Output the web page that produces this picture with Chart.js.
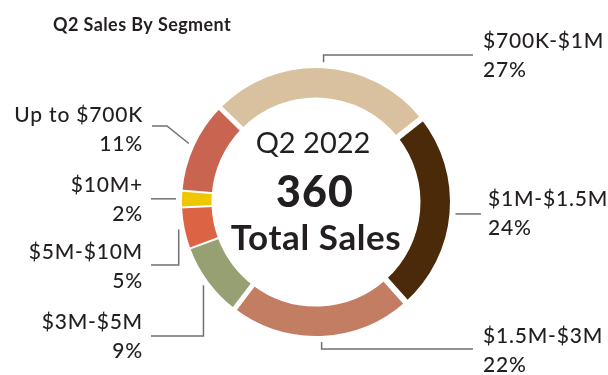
<!DOCTYPE html>
<html>
<head>
<meta charset="utf-8">
<script src="https://cdn.jsdelivr.net/npm/chart.js@4.4.1/dist/chart.umd.min.js"></script>
<style>
  html, body { margin: 0; padding: 0; background: #ffffff; }
  #wrap { position: relative; width: 608px; height: 375px; }
</style>
</head>
<body>
<div id="wrap"><canvas id="c"></canvas></div>
<script>
// ---- data ----
const chartTitle = 'Q2 Sales By Segment';
const quarterLabel = 'Q2 2022';
const totalSales = 360;
const totalLabel = 'Total Sales';
const segments = ['$700K-$1M', '$1M-$1.5M', '$1.5M-$3M', '$3M-$5M', '$5M-$10M', '$10M+', 'Up to $700K'];
const shares = [27, 24, 22, 9, 5, 2, 11];

// ---- styles ----
const segmentColors = ['#d9c19f', '#4a2a08', '#c27d62', '#96a072', '#dd6345', '#efc700', '#c96451'];
const gapWidths = [5, 6, 6, 5, 2, 2, 2];   // white gap drawn at the start of each segment
const textColor = '#231f20';
const leaderColor = '#707070';
const fontFamily = 'Lato, "Open Sans", sans-serif';

// leader line routing and label placement for each segment
const leaders = [
  { route: 'up',   turnY: 55,  endX: 473, textX: 483, textY: 48,  align: 'left'  },
  { route: 'flat',             endX: 481, textX: 488, textY: 206, align: 'left'  },
  { route: 'down', turnY: 349, endX: 473, textX: 483, textY: 343, align: 'left'  },
  { route: 'down', turnY: 336, endX: 151, textX: 143, textY: 329, align: 'right' },
  { route: 'down', turnY: 265, endX: 151, textX: 143, textY: 259, align: 'right' },
  { route: 'flat',             endX: 151, textX: 143, textY: 192, align: 'right' },
  { route: 'diag', turnX: 167, turnY: 126, endX: 152, textX: 143, textY: 122, align: 'right' }
];

function setFont(ctx, font, spacing) {
  ctx.font = font;
  if ('letterSpacing' in ctx) ctx.letterSpacing = spacing + 'px';
}

const decorations = {
  id: 'decorations',
  afterDatasetsDraw(chart) {
    const ctx = chart.ctx;
    const arcs = chart.getDatasetMeta(0).data;
    ctx.save();

    // white separators between segments
    ctx.strokeStyle = '#ffffff';
    ctx.lineCap = 'butt';
    arcs.forEach((arc, i) => {
      const p = arc.getProps(['x', 'y', 'startAngle', 'innerRadius', 'outerRadius'], true);
      const a = p.startAngle;
      ctx.lineWidth = gapWidths[i];
      ctx.beginPath();
      ctx.moveTo(p.x + Math.cos(a) * (p.innerRadius - 2), p.y + Math.sin(a) * (p.innerRadius - 2));
      ctx.lineTo(p.x + Math.cos(a) * (p.outerRadius + 2), p.y + Math.sin(a) * (p.outerRadius + 2));
      ctx.stroke();
    });

    // leader lines and labels
    arcs.forEach((arc, i) => {
      const p = arc.getProps(['x', 'y', 'startAngle', 'endAngle', 'outerRadius'], true);
      const mid = (p.startAngle + p.endAngle) / 2;
      const r = p.outerRadius + 6;
      const sx = p.x + Math.cos(mid) * r;
      const sy = p.y + Math.sin(mid) * r;
      const L = leaders[i];
      ctx.strokeStyle = leaderColor;
      ctx.lineWidth = 1.5;
      ctx.beginPath();
      ctx.moveTo(sx, sy);
      if (L.route === 'up' || L.route === 'down') {
        ctx.lineTo(sx, L.turnY);
        ctx.lineTo(L.endX, L.turnY);
      } else if (L.route === 'flat') {
        ctx.lineTo(L.endX, sy);
      } else {
        ctx.lineTo(L.turnX, L.turnY);
        ctx.lineTo(L.endX, L.turnY);
      }
      ctx.stroke();

      ctx.fillStyle = textColor;
      ctx.textAlign = L.align;
      ctx.textBaseline = 'alphabetic';
      setFont(ctx, '500 21px ' + fontFamily, 0.8);
      ctx.fillText(segments[i], L.textX, L.textY);
      ctx.fillText(shares[i] + '%', L.textX, L.textY + 29);
    });

    // centre text
    const c = arcs[0].getProps(['x', 'y'], true);
    ctx.textAlign = 'center';
    ctx.fillStyle = textColor;
    setFont(ctx, '400 29px ' + fontFamily, 0);
    ctx.fillText(quarterLabel, c.x - 3, c.y - 49);
    setFont(ctx, '900 43px ' + fontFamily, 1);
    ctx.fillText(String(totalSales), c.x - 1, c.y + 5);
    setFont(ctx, '700 35px ' + fontFamily, 0.6);
    ctx.fillText(totalLabel, c.x, c.y + 48);

    // chart title
    ctx.textAlign = 'left';
    setFont(ctx, '700 18px ' + fontFamily, 0.4);
    ctx.fillText(chartTitle, 53, 31);
    ctx.restore();
  }
};

new Chart(document.getElementById('c'), {
  type: 'doughnut',
  data: {
    labels: segments,
    datasets: [{
      data: shares,
      backgroundColor: segmentColors,
      borderWidth: 0,
      radius: 134,
      cutout: 104.5
    }]
  },
  options: {
    responsive: true,
    maintainAspectRatio: false,
    animation: false,
    rotation: -45.5,
    layout: { padding: { left: 182, right: 158, top: 68, bottom: 39 } },
    events: [],
    plugins: {
      legend: { display: false },
      tooltip: { enabled: false },
      title: { display: false }
    }
  },
  plugins: [decorations]
});
</script>
</body>
</html>
